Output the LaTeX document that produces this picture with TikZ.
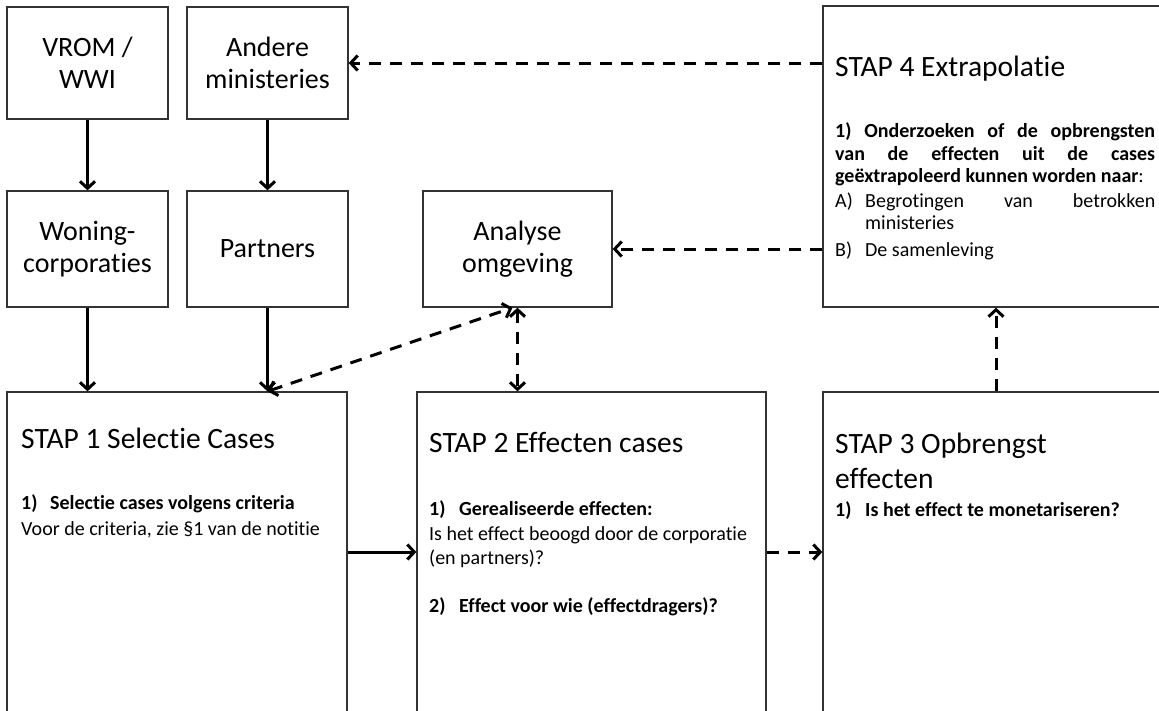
\documentclass[tikz,border=0pt]{standalone}
\usepackage{fontspec}
\setmainfont{Carlito}[Ligatures={NoCommon,NoContextual,NoRequired},Contextuals=NoAlternate]
\usetikzlibrary{arrows.meta,calc}
\newcommand\fsTitle{\fontsize{29.5}{34}\selectfont}
\newcommand\fsBox{\fontsize{28}{32}\selectfont}
\newcommand\fsBody{\fontsize{20}{24}\selectfont}
\newcommand\tiX{t\kern0pt i}
\tikzset{
  smallbox/.style={draw=black!80, line width=1.3pt, fill=white, inner sep=0pt, align=center, font=\fsBox},
  stepbox/.style={draw=black!80, line width=1.3pt, fill=white, inner sep=0pt},
  steptitle/.style={anchor=base west, inner sep=0pt, font=\fsTitle},
  stepline/.style={anchor=base west, inner sep=0pt, font=\fsBody},
  solidarrow/.style={line width=3pt, -{Straight Barb[length=7pt,width=15pt]}},
  dasharrow/.style={line width=3pt, dash pattern=on 12pt off 9pt, -{Straight Barb[length=7pt,width=15pt]}},
  dashboth/.style={line width=3pt, dash pattern=on 12pt off 9pt, {Straight Barb[length=7pt,width=15pt]}-{Straight Barb[length=7pt,width=15pt]}}
}
\begin{document}
\begin{tikzpicture}[x=1pt,y=-1pt]
\useasboundingbox (0,0) rectangle (1159,710);
\clip (0,0) rectangle (1159,710);
\fill[white] (0,0) rectangle (1159,710);

% small boxes
\node[smallbox, minimum width=161pt, minimum height=112pt] (vrom) at (87.5,63) {VROM /\\WWI};
\node[smallbox, minimum width=161pt, minimum height=112pt] (andere) at (267.5,63) {Andere\\ministeries};
\node[smallbox, minimum width=161pt, minimum height=116pt] (woning) at (87.5,249) {Woning-\\corpora\tiX es};
\node[smallbox, minimum width=161pt, minimum height=116pt] (partners) at (267.5,249) {Partners};
\node[smallbox, minimum width=189pt, minimum height=116pt] (analyse) at (517.5,249) {Analyse\\omgeving};

% step boxes
\node[stepbox, minimum width=340pt, minimum height=320pt] (stap1) at (177,552) {};
\node[stepbox, minimum width=349pt, minimum height=320pt] (stap2) at (591.5,552) {};
\node[stepbox, minimum width=346pt, minimum height=320pt] (stap3) at (996,552) {};
\node[stepbox, minimum width=346pt, minimum height=301pt] (stap4) at (996,156.5) {};

% STAP 1 text
\node[steptitle] (s1t) at (21,448) {STAP 1 Selec\tiX e Cases};
\node[stepline] (s1a) at (21,509) {\makebox[29pt][l]{\textbf{1)}}\textbf{Selec\tiX e cases volgens criteria}};
\node[stepline] (s1b) at (21,535) {Voor de criteria, zie §1 van de no\tiX\tiX e};

% STAP 2 text
\node[steptitle] (s2t) at (429,452) {STAP 2 Effecten cases};
\node[stepline] (s2a) at (429,515) {\makebox[30pt][l]{\textbf{1)}}\textbf{Gerealiseerde effecten:}};
\node[stepline] (s2b) at (429,540) {Is het effect beoogd door de corpora\tiX e};
\node[stepline] (s2c) at (429,564) {(en partners)?};
\node[stepline] (s2d) at (429,612) {\makebox[30pt][l]{\textbf{2)}}\textbf{Effect voor wie (effectdragers)?}};

% STAP 3 text
\node[steptitle] (s3t) at (835,453) {STAP 3 Opbrengst};
\node[steptitle] (s3u) at (835,488) {effecten};
\node[stepline] (s3a) at (835,516) {\makebox[30pt][l]{\textbf{1)}}\textbf{Is het effect te monetariseren?}};

% STAP 4 text
\node[steptitle] (s4t) at (835,76) {STAP 4 Extrapola\tiX e};
\node[stepline] (s4a) at (835,137) {\makebox[320pt][s]{\textbf{1) Onderzoeken of de opbrengsten}}};
\node[stepline] (s4b) at (835,160) {\makebox[320pt][s]{\textbf{van de effecten uit de cases}}};
\node[stepline] (s4c) at (835,182) {\textbf{geëxtrapoleerd kunnen worden naar}:};
\node[stepline] (s4d) at (835,207) {\makebox[30pt][l]{A)}\makebox[290pt][s]{Begrotingen van betrokken}};
\node[stepline] (s4e) at (865,229) {ministeries};
\node[stepline] (s4f) at (835,256) {\makebox[30pt][l]{B)}De samenleving};

% connectors
\draw[solidarrow] (vrom.south) -- (woning.north);
\draw[solidarrow] (andere.south) -- (partners.north);
\draw[solidarrow] (woning.south) -- (woning.south |- stap1.north);
\draw[solidarrow] (partners.south) -- (partners.south |- stap1.north);
\draw[solidarrow] (stap1.east) -- (stap2.west);
\draw[dasharrow] (stap2.east) -- (stap3.west);
\draw[dasharrow] (stap3.north) -- (stap4.south);
\draw[dasharrow] (stap4.west |- andere.east) -- (andere.east);
\draw[dasharrow] (stap4.west |- analyse.east) -- (analyse.east);
\draw[dashboth] (partners.south |- stap1.north) -- ([xshift=-5pt]analyse.south);
\draw[dashboth] (analyse.south) -- (analyse.south |- stap2.north);
\end{tikzpicture}
\end{document}
